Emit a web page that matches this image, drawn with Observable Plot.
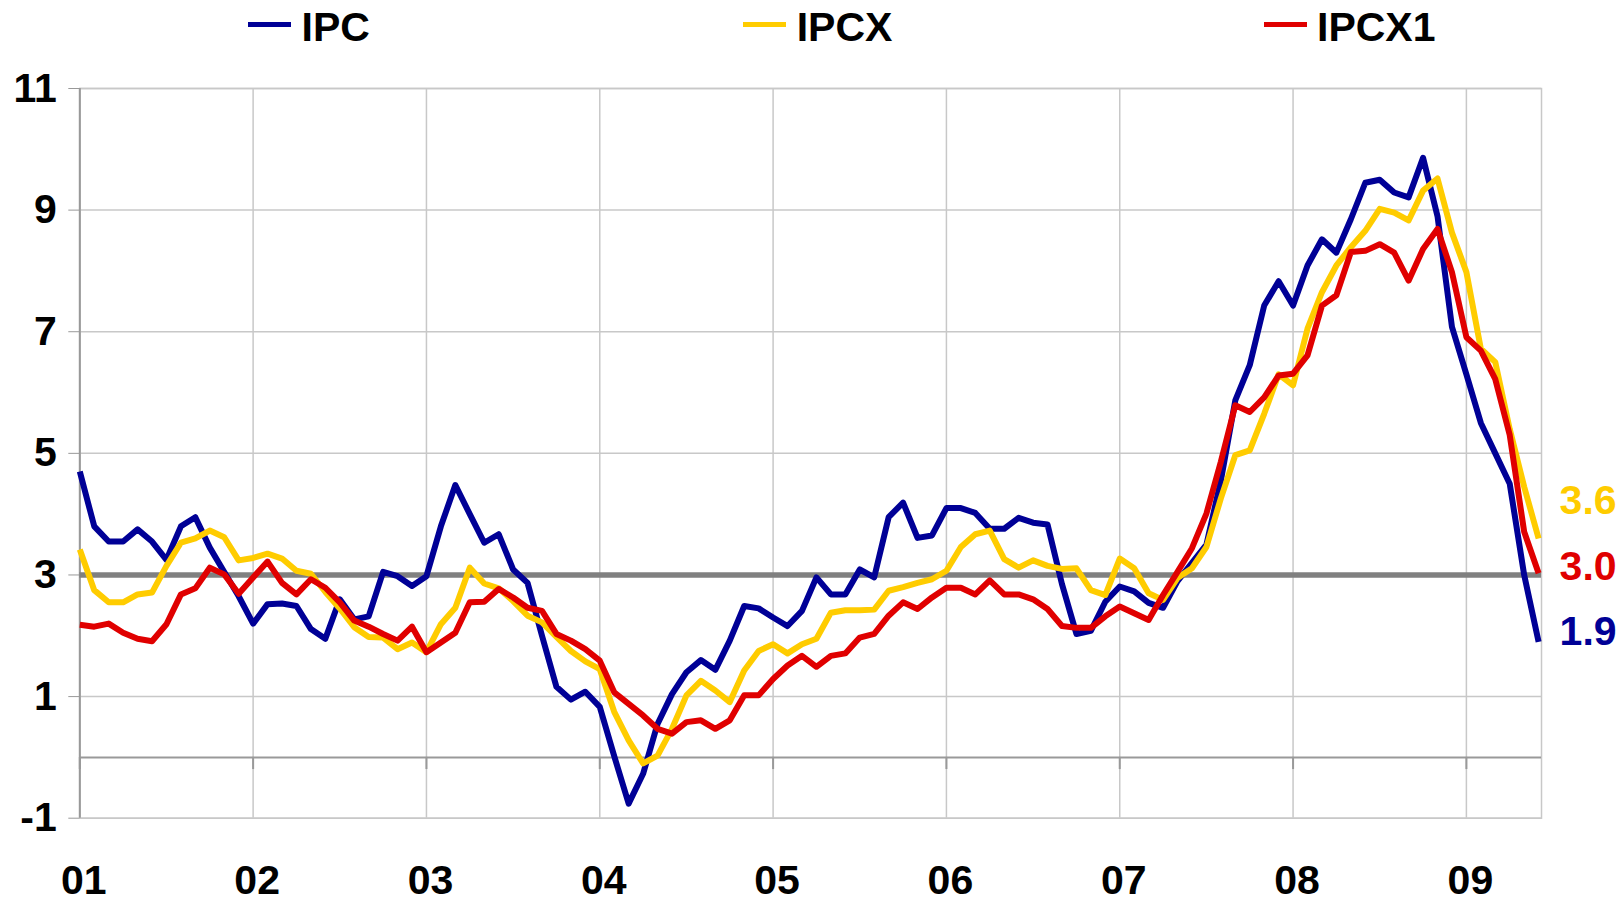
<!DOCTYPE html>
<html>
<head>
<meta charset="utf-8">
<script src="https://cdn.jsdelivr.net/npm/d3@7"></script>
<script src="https://cdn.jsdelivr.net/npm/@observablehq/plot@0.6"></script>
<style>
  body { margin: 0; background: #fff; font-family: "Liberation Sans", Arial, sans-serif; }
  #legend { position: relative; width: 1622px; height: 52px; }
  .sw { position: absolute; top: 21.5px; width: 43px; height: 5px; }
  .lt { position: absolute; top: 7px; font-size: 41px; line-height: 41px; font-weight: bold; color: #000; white-space: nowrap; }
  #chart svg { display: block; }
</style>
</head>
<body>
<div id="legend"></div>
<div id="chart"></div>
<script>
// ---- data ----
const seriesNames = ["IPC", "IPCX", "IPCX1"];
const yearLabels = ["01", "02", "03", "04", "05", "06", "07", "08", "09"];
const yTicks = [-1, 1, 3, 5, 7, 9, 11];
const yTickLabels = ["-1", "1", "3", "5", "7", "9", "11"];
const target = 3;

// monthly, Jan 2001 .. Jun 2009
const ipc = [
  4.7, 3.8, 3.55, 3.55, 3.75, 3.55, 3.25, 3.8, 3.95, 3.45, 3.05, 2.65,
  2.2, 2.52, 2.53, 2.49, 2.11, 1.95, 2.6, 2.27, 2.32, 3.05, 2.98, 2.82,
  2.98, 3.8, 4.48, 4.0, 3.53, 3.67, 3.09, 2.87, 2.0, 1.16, 0.95, 1.08,
  0.83, 0.02, -0.76, -0.27, 0.55, 1.04, 1.40, 1.60, 1.44, 1.92, 2.49, 2.45,
  2.30, 2.16, 2.41, 2.96, 2.68, 2.68, 3.09, 2.96, 3.95, 4.19, 3.61, 3.65,
  4.10, 4.10, 4.02, 3.76, 3.76, 3.94, 3.86, 3.83, 2.85, 2.03, 2.08, 2.56,
  2.81, 2.73, 2.54, 2.46, 2.9, 3.2, 3.5, 4.55, 5.87, 6.45, 7.43, 7.83,
  7.43, 8.09, 8.52, 8.30, 8.85, 9.45, 9.50, 9.29, 9.21, 9.86, 8.9, 7.08,
  6.3, 5.5, 5.0, 4.5, 3.0, 1.9
];
const ipcx = [
  3.42, 2.75, 2.55, 2.55, 2.68, 2.71, 3.15, 3.53, 3.60, 3.73, 3.62, 3.24,
  3.28, 3.35, 3.27, 3.07, 3.02, 2.72, 2.45, 2.14, 1.98, 1.97, 1.78, 1.89,
  1.73, 2.19, 2.46, 3.12, 2.86, 2.78, 2.57, 2.33, 2.22, 1.98, 1.75, 1.58,
  1.45, 0.75, 0.28, -0.10, 0.03, 0.47, 1.02, 1.26, 1.10, 0.91, 1.43, 1.75,
  1.86, 1.71, 1.86, 1.95, 2.38, 2.42, 2.42, 2.43, 2.74, 2.80, 2.87, 2.93,
  3.07, 3.46, 3.67, 3.73, 3.26, 3.12, 3.24, 3.15, 3.10, 3.11, 2.75, 2.67,
  3.27, 3.11, 2.70, 2.59, 2.95, 3.11, 3.46, 4.26, 4.97, 5.05, 5.65, 6.3,
  6.12, 7.05, 7.65, 8.09, 8.39, 8.66, 9.02, 8.96, 8.83, 9.32, 9.52, 8.63,
  7.98, 6.72, 6.5, 5.4, 4.45, 3.6
];
const ipcx1 = [
  2.18, 2.15, 2.20, 2.05, 1.95, 1.91, 2.19, 2.68, 2.78, 3.12, 3.01, 2.69,
  2.96, 3.22, 2.87, 2.68, 2.93, 2.79, 2.55, 2.25, 2.15, 2.03, 1.92, 2.15,
  1.73, 1.89, 2.05, 2.55, 2.56, 2.77, 2.63, 2.46, 2.41, 2.03, 1.92, 1.78,
  1.59, 1.07, 0.88, 0.69, 0.47, 0.39, 0.58, 0.61, 0.47, 0.61, 1.02, 1.02,
  1.29, 1.51, 1.67, 1.49, 1.67, 1.71, 1.97, 2.03, 2.33, 2.55, 2.44, 2.63,
  2.79, 2.79, 2.68, 2.91, 2.68, 2.68, 2.60, 2.44, 2.16, 2.13, 2.13, 2.32,
  2.48, 2.37, 2.26, 2.67, 3.05, 3.44, 4.01, 4.86, 5.79, 5.68, 5.92, 6.28,
  6.31, 6.61, 7.43, 7.60, 8.31, 8.33, 8.44, 8.30, 7.84, 8.36, 8.69, 7.98,
  6.91, 6.69, 6.22, 5.3, 3.71, 3.03
];

// ---- styling ----
const seriesColors = ["#000096", "#FFCC00", "#E00000"];
const legendSwatchLeft = [248, 743, 1264];
const legendTextLeft = [301.5, 796.7, 1317];
const endLabelDy = { IPC: -9.6, IPCX: -37.5, IPCX1: -6 };
const fontFamily = "Liberation Sans, Arial, sans-serif";

// ---- legend ----
const legend = document.getElementById("legend");
seriesNames.forEach((name, k) => {
  const sw = document.createElement("div");
  sw.className = "sw";
  sw.style.left = legendSwatchLeft[k] + "px";
  sw.style.background = seriesColors[k];
  legend.appendChild(sw);
  const t = document.createElement("div");
  t.className = "lt";
  t.style.left = legendTextLeft[k] + "px";
  t.textContent = name;
  legend.appendChild(t);
});

// ---- table ----
const seriesValues = [ipc, ipcx, ipcx1];
const rows = seriesNames.flatMap((s, k) =>
  seriesValues[k].map((v, i) => ({ series: s, month: i, value: v }))
);
const lastPoints = seriesNames.map((s, k) => {
  const arr = seriesValues[k];
  return { series: s, month: arr.length - 1, value: arr[arr.length - 1] };
});
const yearTicks = yearLabels.map((_, i) => i * 12);
const nMonths = ipc.length;

const chart = Plot.plot({
  width: 1622,
  height: 850,
  marginLeft: 79.3,
  marginRight: 81,
  marginTop: 36,
  marginBottom: 84.3,
  style: { fontFamily, background: "#fff", overflow: "visible" },
  x: { type: "linear", domain: [0, nMonths - 1 + 0.2] },
  y: { domain: [-1, 11] },
  color: { domain: seriesNames, range: seriesColors },
  marks: [
    Plot.gridY(yTicks, { stroke: "#c8c8c8", strokeOpacity: 1, strokeWidth: 1.5 }),
    Plot.gridX(yearTicks, { stroke: "#c8c8c8", strokeOpacity: 1, strokeWidth: 1.5 }),
    Plot.frame({ stroke: "#c8c8c8", strokeWidth: 1.5 }),
    Plot.ruleY([0], { stroke: "#999", strokeWidth: 2 }),
    Plot.ruleX(yearTicks, { y1: 0, y2: -0.2, stroke: "#999", strokeWidth: 2 }),
    Plot.ruleX([0], { stroke: "#999", strokeWidth: 2 }),
    Plot.axisY(yTicks, {
      tickSize: 11, tickPadding: 12, stroke: "#999", fill: "#000",
      tickFormat: (d) => yTickLabels[yTicks.indexOf(d)],
      fontSize: 41, fontWeight: "bold", label: null
    }),
    Plot.axisX(yearTicks, {
      tickSize: 0, tickPadding: 47, fill: "#000",
      tickFormat: (d) => yearLabels[d / 12],
      fontSize: 41, fontWeight: "bold", dx: 4, label: null
    }),
    Plot.ruleY([target], { stroke: "#808080", strokeWidth: 5.5 }),
    Plot.line(rows, {
      x: "month", y: "value", z: "series", stroke: "series",
      strokeWidth: 6, strokeLinejoin: "round", strokeLinecap: "butt"
    }),
    ...seriesNames.map((s) =>
      Plot.text(lastPoints.filter((d) => d.series === s), {
        x: "month", y: "value", text: (d) => d.value.toFixed(1), fill: "series",
        dx: 21, dy: endLabelDy[s], textAnchor: "start",
        fontSize: 41, fontWeight: "bold"
      })
    )
  ]
});
document.getElementById("chart").appendChild(chart);
</script>
</body>
</html>
